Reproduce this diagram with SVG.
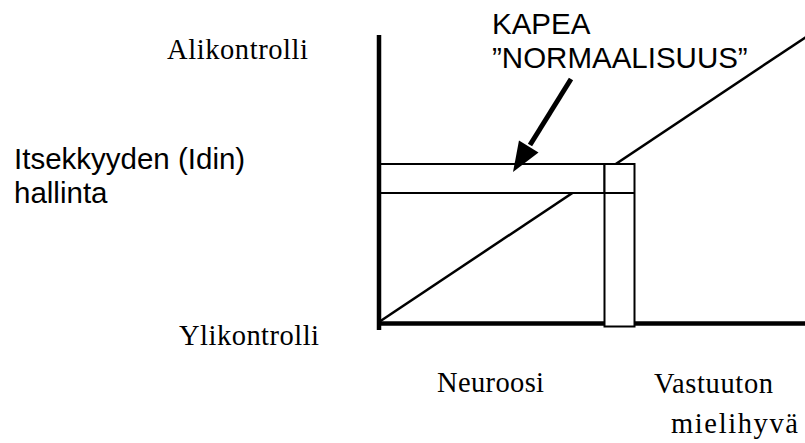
<svg xmlns="http://www.w3.org/2000/svg" width="805" height="443" viewBox="0 0 805 443">
<style>
.serif{font-family:"Liberation Serif","Times New Roman",serif;font-size:28.5px;fill:#000}
.sans{font-family:"Liberation Sans",Arial,sans-serif;font-size:29.5px;fill:#000}
.bar{fill:#fff;stroke:#000;stroke-width:2}
.axis{stroke:#000;stroke-width:4.5;fill:none}
</style>
<rect width="805" height="443" fill="#fff"/>
<g id="connectors">
<line id="diagonal" x1="379" y1="322" x2="806" y2="37" stroke="#000" stroke-width="2.5"/>
</g>
<g id="band-horizontal">
<rect class="bar" x="378" y="164" width="226.5" height="29"/>
</g>
<g id="axes">
<line class="axis" x1="379" y1="35" x2="379" y2="330"/>
<line class="axis" x1="377" y1="323.5" x2="805" y2="323.5"/>
</g>
<g id="band-vertical">
<rect class="bar" x="604.5" y="164" width="30" height="162.5"/>
<line x1="604.5" y1="193" x2="634.5" y2="193" stroke="#000" stroke-width="2"/>
</g>
<g id="arrow">
<line x1="571" y1="79" x2="530" y2="145" stroke="#000" stroke-width="5"/>
<polygon points="513,172 538.5,152.5 519,140.5" fill="#000"/>
</g>
<g id="label-kapea">
<text class="sans" x="492" y="34">KAPEA</text>
<text class="sans" x="492" y="68">”NORMAALISUUS”</text>
</g>
<g id="label-alikontrolli"><text class="serif" x="167" y="59" textLength="141">Alikontrolli</text></g>
<g id="label-itsekkyys">
<text class="sans" x="14" y="169">Itsekkyyden (Idin)</text>
<text class="sans" x="14" y="203">hallinta</text>
</g>
<g id="label-ylikontrolli"><text class="serif" x="179" y="345" textLength="140">Ylikontrolli</text></g>
<g id="label-neuroosi"><text class="serif" x="437" y="392" textLength="107">Neuroosi</text></g>
<g id="label-vastuuton">
<text class="serif" x="654" y="393" textLength="119">Vastuuton</text>
<text class="serif" x="671" y="433" textLength="127">mielihyvä</text>
</g>
</svg>
